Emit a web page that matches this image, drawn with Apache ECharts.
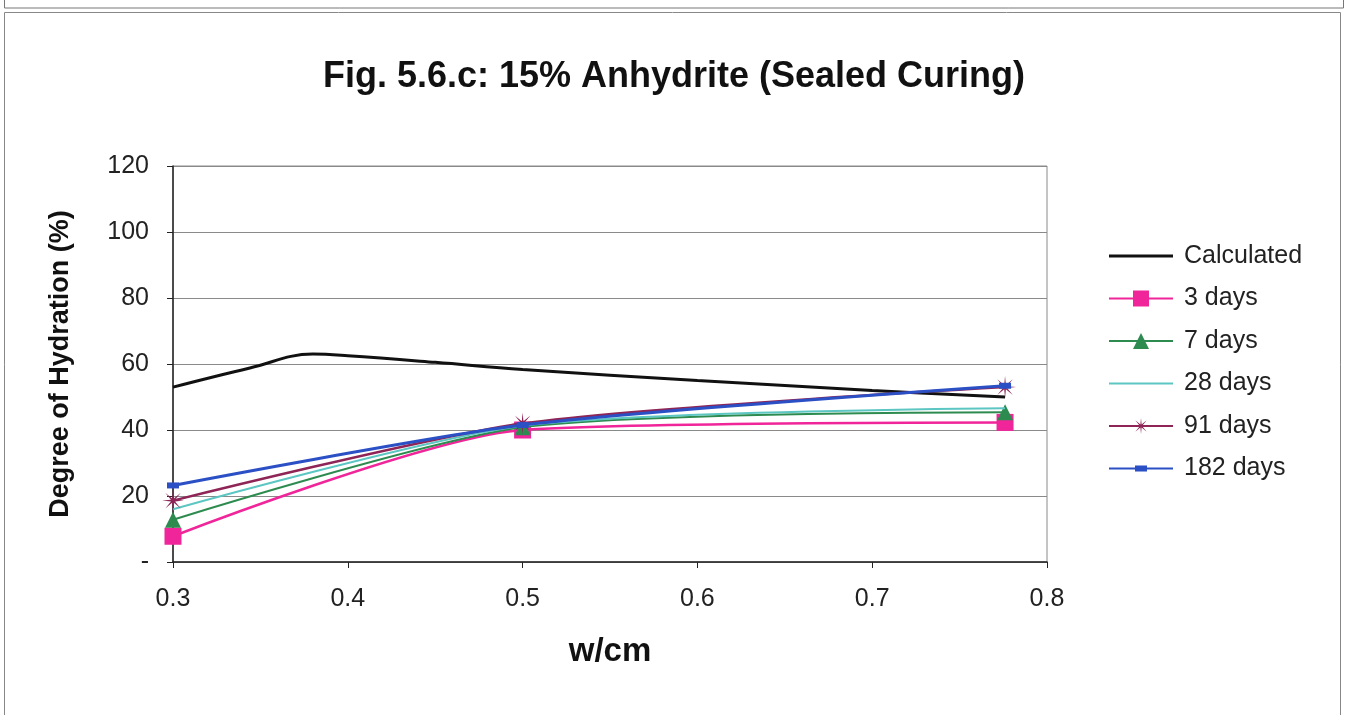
<!DOCTYPE html>
<html>
<head>
<meta charset="utf-8">
<script src="https://cdn.jsdelivr.net/npm/echarts@6/dist/echarts.min.js"></script>
<style>
  html, body { margin: 0; padding: 0; background: #fff; }
  #chart { width: 1348px; height: 715px; }
</style>
</head>
<body>
<div id="chart"></div>
<script>
// Water/cement ratios (w/cm) of the measured mixes
const wcm = [0.3, 0.5, 0.776];

// Calculated degree of hydration curve
const calcX = [0.3, 0.344, 0.38, 0.4, 0.45, 0.5, 0.6, 0.7, 0.776];
const calcY = [53, 58.8, 63, 62.5, 60.5, 58.3, 55, 52, 50];

// Measured degree of hydration (%) by curing age
const days3 = [7.8, 40, 42.3];
const days7 = [12.8, 40.8, 45.4];
const days28 = [16, 41.3, 46.6];
const days91 = [18.6, 42, 53];
const days182 = [23.2, 41.5, 53.4];

const yTicks = [0, 20, 40, 60, 80, 100, 120];
const xTicks = [0.3, 0.4, 0.5, 0.6, 0.7, 0.8];

const pair = (xs, ys) => xs.map((x, i) => [x, ys[i]]);

// asterisk-like marker built from thin spikes
function starPath(n, rOut, rIn) {
  let d = '';
  for (let i = 0; i < n * 2; i++) {
    const a = Math.PI / 2 + i * Math.PI / n;
    const r = i % 2 === 0 ? rOut : rIn;
    const x = 50 + r * Math.cos(a), y = 50 - r * Math.sin(a);
    d += (i === 0 ? 'M' : 'L') + x.toFixed(2) + ' ' + y.toFixed(2) + ' ';
  }
  return 'path://' + d + 'Z';
}

// legend glyphs for the series without a normal marker
const iconLineThick = 'path://M0 0 H64 V3 H0 Z';
const iconLineThin = 'path://M0 0 H64 V2 H0 Z';
const iconLineDash = 'path://M0 2 H64 V4 H0 Z M26 0 H38 V6 H26 Z';

const font = '"Liberation Sans", Arial, sans-serif';
const chart = echarts.init(document.getElementById('chart'), null, { renderer: 'canvas' });

const option = {
  backgroundColor: '#fff',
  animation: false,
  title: {
    text: 'Fig. 5.6.c: 15% Anhydrite (Sealed Curing)',
    left: 'center',
    top: 54,
    textStyle: { fontFamily: font, fontSize: 36, fontWeight: 'bold', color: '#111' }
  },
  graphic: [
    { type: 'rect', shape: { x: 4.5, y: -5, width: 1339, height: 13 }, style: { fill: 'none', stroke: '#777', lineWidth: 1 } },
    { type: 'rect', shape: { x: 4.5, y: 12.5, width: 1336, height: 720 }, style: { fill: 'none', stroke: '#888', lineWidth: 1 } }
  ],
  grid: {
    left: 173, top: 166, width: 874, height: 396,
    show: true, borderColor: '#8a8a8a', borderWidth: 1, backgroundColor: 'transparent'
  },
  legend: {
    orient: 'vertical',
    left: 1103,
    top: 238,
    itemWidth: 64,
    itemHeight: 20,
    itemGap: 16.5,
    textStyle: { fontFamily: font, fontSize: 25, lineHeight: 26, color: '#222', padding: [0, 0, 0, 6] },
    data: [
      { name: 'Calculated', icon: iconLineThick },
      { name: '3 days' },
      { name: '7 days' },
      { name: '28 days', icon: iconLineThin },
      { name: '91 days' },
      { name: '182 days', icon: iconLineDash }
    ]
  },
  xAxis: {
    type: 'value',
    min: 0.3, max: 0.8, interval: 0.1,
    name: 'w/cm',
    nameLocation: 'middle',
    nameGap: 73,
    nameTextStyle: { fontFamily: font, fontSize: 33, fontWeight: 'bold', color: '#111' },
    axisLine: { lineStyle: { color: '#222', width: 1.5 } },
    axisTick: { show: true, length: 6, lineStyle: { color: '#222' } },
    axisLabel: {
      margin: 25, fontFamily: font, fontSize: 25, color: '#222',
      formatter: v => (xTicks.find(t => Math.abs(t - v) < 1e-6) || v).toFixed(1)
    },
    splitLine: { show: false }
  },
  yAxis: {
    type: 'value',
    min: 0, max: 120, interval: 20,
    name: 'Degree of Hydration (%)',
    nameLocation: 'middle',
    nameGap: 99,
    nameTextStyle: { fontFamily: font, fontSize: 27, fontWeight: 'bold', color: '#111' },
    axisLine: { show: true, lineStyle: { color: '#222', width: 1.5 } },
    axisTick: { show: true, length: 6, lineStyle: { color: '#222' } },
    axisLabel: {
      margin: 24, fontFamily: font, fontSize: 25, color: '#222',
      formatter: v => (v === yTicks[0] ? '-' : String(v))
    },
    splitLine: { show: true, lineStyle: { color: '#8a8a8a', width: 1 } }
  },
  series: [
    {
      name: 'Calculated', type: 'line', smooth: 0.4, symbol: 'none',
      data: pair(calcX, calcY),
      lineStyle: { color: '#111', width: 3 }, itemStyle: { color: '#111' }, z: 2
    },
    {
      name: '3 days', type: 'line', smooth: 0.25, symbol: 'rect', symbolSize: 17,
      data: pair(wcm, days3),
      lineStyle: { color: '#f0259a', width: 2.5 }, itemStyle: { color: '#f0259a' }, z: 3
    },
    {
      name: '7 days', type: 'line', smooth: 0.25, symbol: 'triangle', symbolSize: 16,
      data: pair(wcm, days7),
      lineStyle: { color: '#2e8b50', width: 2 }, itemStyle: { color: '#2e8b50' }, z: 4
    },
    {
      name: '28 days', type: 'line', smooth: 0.25, symbol: 'none',
      data: pair(wcm, days28),
      lineStyle: { color: '#5cc6c2', width: 2 }, itemStyle: { color: '#5cc6c2' }, z: 5
    },
    {
      name: '91 days', type: 'line', smooth: 0.25, symbol: starPath(8, 50, 10), symbolSize: 22,
      data: pair(wcm, days91),
      lineStyle: { color: '#8e2556', width: 2.5 }, itemStyle: { color: '#8e2556' }, z: 6
    },
    {
      name: '182 days', type: 'line', smooth: 0.25, symbol: 'rect', symbolSize: [12, 6],
      data: pair(wcm, days182),
      lineStyle: { color: '#2b4fc4', width: 3 }, itemStyle: { color: '#2b4fc4' }, z: 7
    }
  ]
};

chart.setOption(option);
</script>
</body>
</html>
